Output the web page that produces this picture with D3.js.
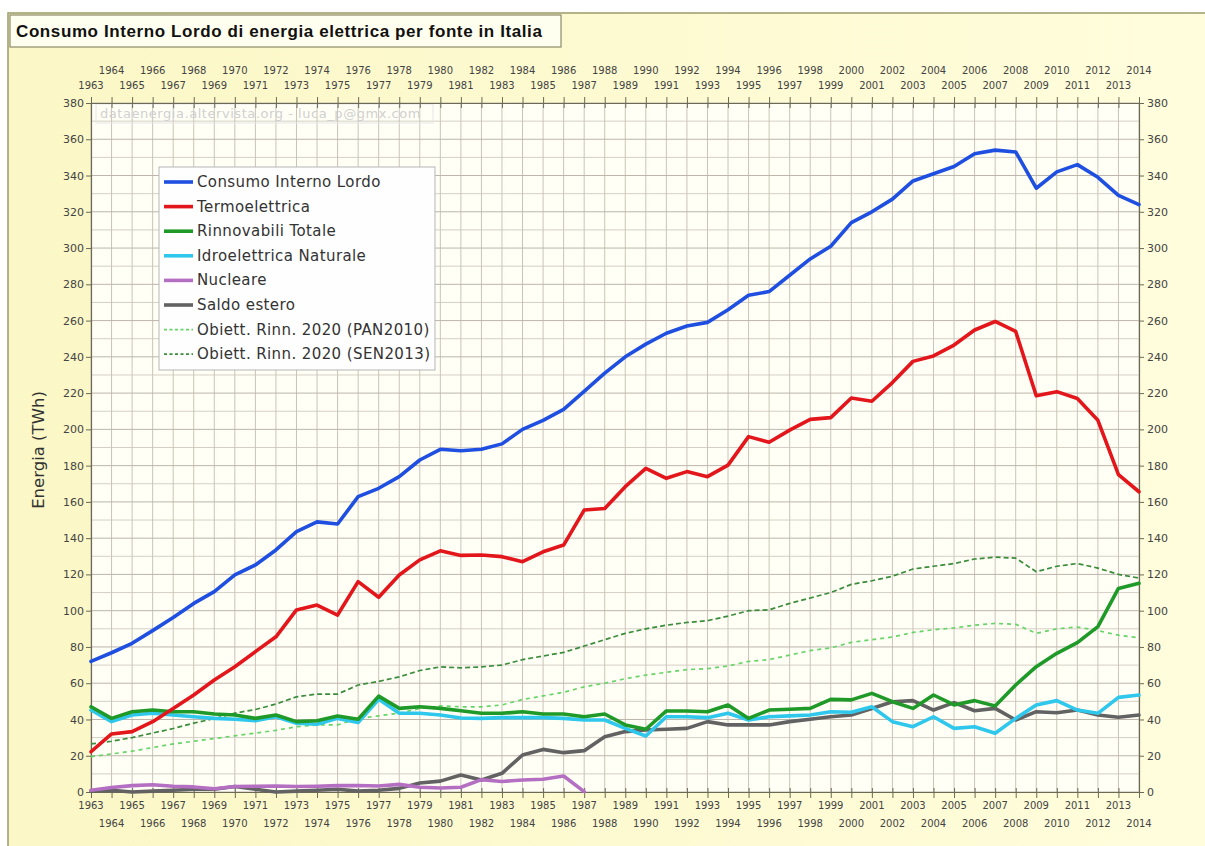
<!DOCTYPE html>
<html>
<head>
<meta charset="utf-8">
<script src="https://cdn.jsdelivr.net/npm/d3@7"></script>
<style>
html,body{margin:0;padding:0;background:#fff;}
svg{display:block;}
</style>
</head>
<body>
<div id="chart"></div>
<script>
const years = d3.range(1963, 2015);
const yTicks = d3.range(0, 381, 20);

const consumoInternoLordo = [72,76.8,82,89,96.3,104,110.5,119.7,125.2,133.5,143.6,149,147.8,162.9,167.5,173.9,183.1,189,188.2,189,192,200,205,211,221,231,240,247,253,257,259,266,274,276,285,294,301,314,320,327,337,341,345,352,354,353,333,342,346,339,329,324];
const termoelettrica = [22.2,32,33.3,38.8,46.1,53.5,61.8,69.1,77.4,85.6,100.4,103.1,97.6,116,107.4,119.7,128,133,130.5,130.7,129.8,127,132.5,136.2,155.5,156.4,168.4,178.5,173,176.7,173.9,180.3,196,192.9,199.6,205.5,206.5,217.3,215.5,225.8,237.5,240.5,246.5,254.8,259.5,254,218.5,220.8,217,205,175,165.6];
const rinnovabiliTotale = [47,40.6,44.3,45.2,44.3,44.3,43,42.5,40.6,42.5,38.8,39.3,41.9,40.1,52.9,46.1,47,46.1,44.8,43.4,43.4,44.3,43,43,41.5,43,37,34.6,44.7,44.7,44.3,48,40.6,45.2,45.6,46.1,51.1,50.8,54.4,49.8,46.1,53.5,48,50.4,47.4,59,69.1,76.5,82.4,91.2,112.3,115.1];
const idroelettricaNaturale = [45.2,38.8,42.5,43.4,42.5,41.5,40.6,40.1,39.3,41.5,37.9,37.4,40.6,38.3,51.1,43.4,43.4,42.5,40.8,40.6,41,41,41,40.6,39.7,39.7,35.1,30.9,41.5,41.5,41,43.4,39.7,41.5,42,42.5,44.3,44,47,38.8,36,41.5,35.1,36,32.4,40.6,48,50.4,45.2,43.4,52.2,53.5];
const nucleareYears = d3.range(1963, 1988);
const nucleare = [1,2.5,3.5,4,3.2,2.8,1.8,3,3.2,3.3,3,3.2,3.5,3.6,3.3,4.2,2.6,2.2,2.6,6.8,5.8,6.6,7,8.8,0.2];
const saldoEstero = [0.5,1,0,0.5,1,1.5,1.5,3,1.5,0,0.5,1,1.5,0.5,1,2,5,6,9.4,6.6,10.3,20.4,23.5,21.7,22.8,30.5,33.3,34.2,34.6,35.1,38.8,37,37,37,38.8,40.1,41.5,42.5,46.1,49.8,50.4,45.2,49.3,44.8,46.1,39.7,44.3,43.7,45.2,42.5,41.2,42.5];
const obiettPAN2010 = [19.5,21,22.5,24.5,26.5,28,29.5,31,32.5,34,36,37,37,40.5,42,43.5,46,47.5,47,47,48,51,53,55,58,60,62.5,64.5,66,67.5,68,69.5,72,73,75.5,78,79.5,82.5,84,85.5,88,89.5,90.5,92,93,92.5,87.5,90,91,89,86.5,85];
const obiettSEN2013 = [26.5,28,30,32.5,35,38,40.5,43.5,45.5,48.5,52.5,54,54,59,61,63.5,67,69,68.5,69,70,73,75,77,80.5,84,87.5,90,92,93.5,94.5,97,100,100.5,104,107,110,114.5,116.5,119,123,124.5,126,128.5,129.5,129,121.5,124.5,126,123.5,120,118];

const seriesNames = ["Consumo Interno Lordo","Termoelettrica","Rinnovabili Totale","Idroelettrica Naturale","Nucleare","Saldo estero","Obiett. Rinn. 2020 (PAN2010)","Obiett. Rinn. 2020 (SEN2013)"];
const seriesColors = ["#1f4fe0","#e3161b","#1f9a28","#2fc8ec","#b46fc2","#626262","#66d466","#3b8c3b"];
const seriesValues = [consumoInternoLordo, termoelettrica, rinnovabiliTotale, idroelettricaNaturale, nucleare, saldoEstero, obiettPAN2010, obiettSEN2013];
const seriesYears = [years, years, years, years, nucleareYears, years, years, years];
const seriesDashed = [false,false,false,false,false,false,true,true];

const titleText = "Consumo Interno Lordo di energia elettrica per fonte in Italia";
const yLabel = "Energia (TWh)";
const watermark = "dataenergia.altervista.org - luca_p@gmx.com";

const W = 1205, H = 846;
const svg = d3.select("#chart").append("svg").attr("width", W).attr("height", H);
const defs = svg.append("defs");
const bg = defs.append("linearGradient").attr("id","bg").attr("x1","0").attr("x2","1").attr("y1","0").attr("y2","0");
bg.append("stop").attr("offset","0").attr("stop-color","#fbf7c6");
bg.append("stop").attr("offset","1").attr("stop-color","#fffddc");

svg.append("rect").attr("width",W).attr("height",H).attr("fill","#fff");
svg.append("rect").attr("x",8).attr("y",13).attr("width",W).attr("height",H).attr("fill","url(#bg)")
  .attr("stroke","#9a9a6a").attr("stroke-width",1.5);

const x = d3.scaleLinear().domain([1963, 2014]).range([91, 1139]);
const y = d3.scaleLinear().domain([0, 380]).range([792, 103]);

// plot background
svg.append("rect").attr("x",x(1963)).attr("y",y(380)).attr("width",x(2014)-x(1963)).attr("height",y(0)-y(380)).attr("fill","#fffff6");

// grid
const grid = svg.append("g");
grid.selectAll(".minor").data(d3.range(10, 380, 20)).join("line")
  .attr("x1",x(1963)).attr("x2",x(2014)).attr("y1",d=>y(d)).attr("y2",d=>y(d))
  .attr("stroke","#d6cfc6").attr("stroke-width",1);
grid.selectAll(".vline").data(years).join("line")
  .attr("x1",d=>x(d)).attr("x2",d=>x(d)).attr("y1",y(0)).attr("y2",y(380))
  .attr("stroke","#cbc3ba").attr("stroke-width",1);
grid.selectAll(".major").data(yTicks).join("line")
  .attr("x1",x(1963)).attr("x2",x(2014)).attr("y1",d=>y(d)).attr("y2",d=>y(d))
  .attr("stroke","#bdb5ac").attr("stroke-width",1);

// watermark
svg.append("rect").attr("x",96).attr("y",104).attr("width",337).attr("height",19).attr("fill","none").attr("stroke","#e6e6e6");
svg.append("text").attr("x",100).attr("y",118).text(watermark)
  .attr("font-family","DejaVu Sans, sans-serif").attr("font-size",13).attr("letter-spacing",0.55).attr("fill","#d0d0d0");

// axes
const axisFont = "DejaVu Sans, sans-serif";
const evenYears = years.filter(d => d % 2 === 0);
const oddYears = years.filter(d => d % 2 === 1);

const fmt = d3.format("d");
const topAxis = svg.append("g").attr("transform",`translate(0,${y(380)})`)
  .call(d3.axisTop(x).tickValues(years).tickFormat("").tickSize(6).tickSizeOuter(0));
topAxis.selectAll(".tick line").attr("y2",-6).attr("y1",5);
const botAxis = svg.append("g").attr("transform",`translate(0,${y(0)})`)
  .call(d3.axisBottom(x).tickValues(years).tickFormat("").tickSize(6).tickSizeOuter(0));
botAxis.selectAll(".tick line").attr("y1",-4);
const leftAxis = svg.append("g").attr("transform",`translate(${x(1963)},0)`)
  .call(d3.axisLeft(y).tickValues(yTicks).tickFormat(fmt).tickSize(5).tickSizeOuter(0));
const rightAxis = svg.append("g").attr("transform",`translate(${x(2014)},0)`)
  .call(d3.axisRight(y).tickValues(yTicks).tickFormat(fmt).tickSize(5).tickSizeOuter(0));
[topAxis, botAxis, leftAxis, rightAxis].forEach(a => {
  a.selectAll(".domain").attr("stroke","#6b6b55").attr("stroke-width",1.2);
  a.selectAll(".tick line").attr("stroke","#6b6b55");
  a.selectAll("text").attr("font-family",axisFont).attr("font-size",11).attr("fill","#444");
});
leftAxis.selectAll("text").attr("x",-7);
rightAxis.selectAll("text").attr("x",8);

function yearRow(data, yy) {
  svg.append("g").selectAll("text").data(data).join("text")
    .attr("x",d=>x(d)).attr("y",yy).attr("text-anchor","middle")
    .attr("font-family",axisFont).attr("font-size",10).attr("fill","#444").text(fmt);
}
yearRow(evenYears, 74);
yearRow(oddYears, 89);
yearRow(oddYears, 809);
yearRow(evenYears, 827);

// y label
svg.append("text").attr("transform",`translate(44,450) rotate(-90)`).attr("text-anchor","middle")
  .attr("font-family","DejaVu Sans, sans-serif").attr("font-size",16.5).attr("fill","#333").text(yLabel);

// series
const plot = svg.append("g");
for (let i = seriesNames.length - 1; i >= 0; i--) {
  const yrs = seriesYears[i], vals = seriesValues[i];
  const pts = yrs.map((yr, k) => [yr, vals[k]]);
  const line = d3.line().x(d => x(d[0])).y(d => y(d[1]));
  plot.append("path").datum(pts).attr("d", line).attr("fill","none")
    .attr("stroke", seriesColors[i])
    .attr("stroke-width", seriesDashed[i] ? 1.7 : 3.6)
    .attr("stroke-dasharray", seriesDashed[i] ? (i === 7 ? "5,3" : "4,4") : null)
    .attr("stroke-linejoin","round").attr("stroke-linecap", seriesDashed[i] ? "butt" : "round");
}

// legend
const lg = svg.append("g");
lg.append("rect").attr("x",159).attr("y",167).attr("width",276).attr("height",203)
  .attr("fill","#fefefe").attr("stroke","#b5b5b5");
seriesNames.forEach((name, i) => {
  const ly = 182 + i * 24.6;
  lg.append("line").attr("x1",164).attr("x2",193).attr("y1",ly).attr("y2",ly)
    .attr("stroke",seriesColors[i]).attr("stroke-width",seriesDashed[i] ? 1.7 : 3.6)
    .attr("stroke-dasharray", seriesDashed[i] ? "3,2.5" : null);
  lg.append("text").attr("x",197).attr("y",ly+5).text(name)
    .attr("font-family","DejaVu Sans, sans-serif").attr("font-size",15).attr("letter-spacing",0.4).attr("fill","#333");
});

// title
svg.append("rect").attr("x",10).attr("y",15).attr("width",551).attr("height",32)
  .attr("fill","#fffff0").attr("stroke","#8a8a6a").attr("stroke-width",1.2);
svg.append("text").attr("x",16).attr("y",37).text(titleText)
  .attr("font-family","Liberation Sans, Arial, sans-serif").attr("font-weight","bold").attr("font-size",17).attr("letter-spacing",0.6).attr("fill","#111");
</script>
</body>
</html>
